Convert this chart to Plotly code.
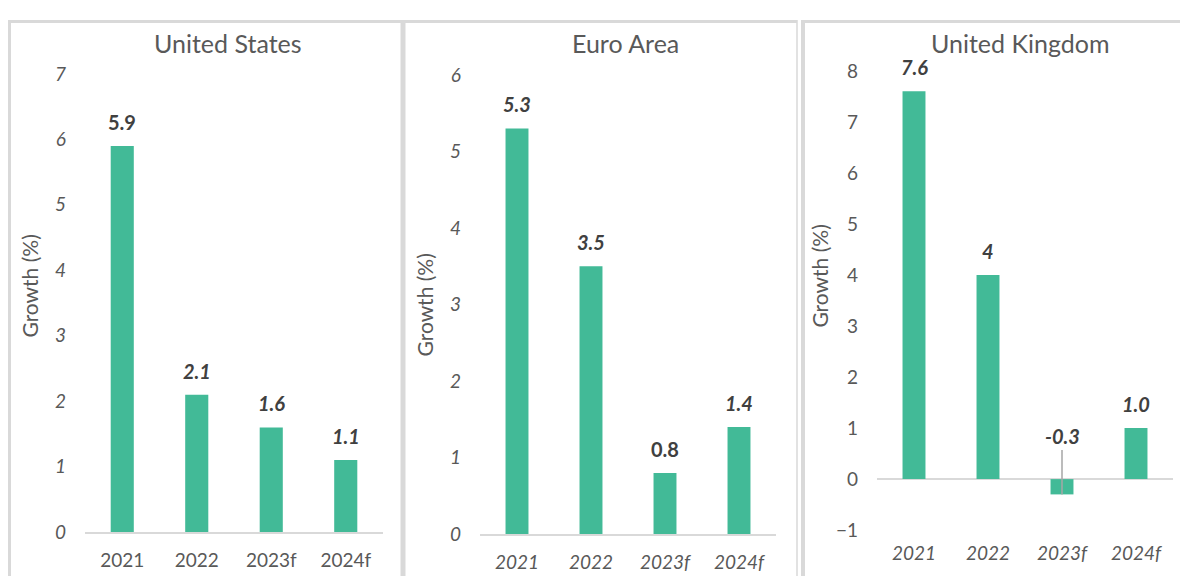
import plotly.graph_objects as go

# ---------------- data ----------------
categories = ["2021", "2022", "2023f", "2024f"]
us_values = [5.9, 2.1, 1.6, 1.1]
ea_values = [5.3, 3.5, 0.8, 1.4]
uk_values = [7.6, 4.0, -0.3, 1.0]
us_labels = ["5.9", "2.1", "1.6", "1.1"]
ea_labels = ["5.3", "3.5", "0.8", "1.4"]
uk_labels = ["7.6", "4", "-0.3", "1.0"]
titles = ["United States", "Euro Area", "United Kingdom"]
us_yticks = [0, 1, 2, 3, 4, 5, 6, 7]
ea_yticks = [0, 1, 2, 3, 4, 5, 6]
uk_yticks = [-1, 0, 1, 2, 3, 4, 5, 6, 7, 8]
axis_title = "Growth (%)"

# ---------------- styling ----------------
OFF_X = 8        # page margin left of the figure
OFF_Y = 17       # observed top offset of the figure in the screenshot
SY = 0.962       # observed vertical scale of the screenshot
W = 1172
H = 580
FONT = "Lato, 'Open Sans', sans-serif"
BAR = "#42ba97"
GREY_TXT = "#595959"
LABEL_TXT = "#404040"
BORDER = "#d9d9d9"


def px(x):
    return (x - OFF_X) / W


def py(y):
    return 1 - ((y - OFF_Y) / SY) / H


panels = [
    dict(values=us_values, labels=us_labels, yticks=us_yticks, rng=[0, 7],
         x0=85, x1=383, ybot=530, ytop=71, title_x=228, atitle=(30, 284),
         ytick_italic=True, xtick_italic=False,
         label_italic=[False, True, True, True]),
    dict(values=ea_values, labels=ea_labels, yticks=ea_yticks, rng=[0, 6],
         x0=480, x1=776, ybot=532, ytop=72, title_x=625, atitle=(425, 303),
         ytick_italic=True, xtick_italic=True,
         label_italic=[True, True, False, True]),
    dict(values=uk_values, labels=uk_labels, yticks=uk_yticks, rng=[-1, 8],
         x0=877, x1=1173, ybot=528, ytop=68, title_x=1020, atitle=(820, 274),
         ytick_italic=False, xtick_italic=True,
         label_italic=[True, True, True, True]),
]

fig = go.Figure()
annotations = []
shapes = []

for i, p in enumerate(panels):
    n = "" if i == 0 else str(i + 1)
    xa, ya = "x" + n, "y" + n
    fig.add_trace(go.Bar(x=categories, y=p["values"], xaxis=xa, yaxis=ya,
                         marker=dict(color=BAR, line=dict(width=0)),
                         showlegend=False, hoverinfo="x+y"))
    xaxis = dict(domain=[px(p["x0"]), px(p["x1"])], anchor=ya,
                 range=[-0.5, 3.5], type="category",
                 showgrid=False, zeroline=False,
                 showline=(p["rng"][0] == 0), linecolor=BORDER, linewidth=1.5,
                 ticks="", ticklabelstandoff=10,
                 tickfont=dict(family=FONT, size=19, color=GREY_TXT,
                               style="italic" if p["xtick_italic"] else "normal"))
    yaxis = dict(domain=[py(p["ybot"]), py(p["ytop"])], anchor=xa,
                 range=p["rng"], tickvals=p["yticks"],
                 showgrid=False, showline=False,
                 zeroline=(p["rng"][0] < 0), zerolinecolor=BORDER, zerolinewidth=1.5,
                 ticks="", ticklabelstandoff=18,
                 tickfont=dict(family=FONT, size=19, color=GREY_TXT,
                               style="italic" if p["ytick_italic"] else "normal"))
    fig.layout["xaxis" + n] = xaxis
    fig.layout["yaxis" + n] = yaxis

    # panel title
    annotations.append(dict(text=titles[i], x=px(p["title_x"]), y=py(40),
                            xref="paper", yref="paper", showarrow=False,
                            xanchor="center", yanchor="middle",
                            font=dict(family=FONT, size=25, color=GREY_TXT)))
    # axis title
    annotations.append(dict(text=axis_title, x=px(p["atitle"][0]), y=py(p["atitle"][1]),
                            xref="paper", yref="paper", showarrow=False,
                            textangle=-90, xanchor="center", yanchor="middle",
                            font=dict(family=FONT, size=21, color=GREY_TXT)))
    # data labels
    for j, (v, lab, it) in enumerate(zip(p["values"], p["labels"], p["label_italic"])):
        f = dict(family=FONT, size=20, color=LABEL_TXT, weight="bold",
                 style="italic" if it else "normal")
        if v >= 0:
            annotations.append(dict(text=lab, x=j, y=v, xref=xa, yref=ya,
                                    showarrow=False, xanchor="center",
                                    yanchor="middle", yshift=24, font=f))
        else:
            annotations.append(dict(text=lab, x=j, y=v, xref=xa, yref=ya,
                                    showarrow=True, arrowhead=0, arrowwidth=1.5,
                                    arrowcolor="#a6a6a6", ax=0, ay=-58, font=f))


# panel borders
def line(x0, y0, x1, y1, w):
    shapes.append(dict(type="line", xref="paper", yref="paper",
                       x0=px(x0), y0=py(y0), x1=px(x1), y1=py(y1),
                       line=dict(color=BORDER, width=w), layer="below"))


TOP = 18.5
line(9.5, TOP - 1.5, 9.5, 600, 3)
line(8, TOP, 401, TOP, 3)
line(403, TOP - 1.5, 403, 600, 5)
line(403, TOP, 797, TOP, 3)
line(797, TOP - 1.5, 797, 600, 1.5)
line(803, TOP - 1.5, 803, 600, 4)
line(801, TOP, 1180, TOP, 3)

fig.update_layout(width=W, height=H, margin=dict(l=0, r=0, t=0, b=0),
                  paper_bgcolor="white", plot_bgcolor="white",
                  bargap=0.69, annotations=annotations, shapes=shapes,
                  font=dict(family=FONT))

fig.write_html("out.html")
